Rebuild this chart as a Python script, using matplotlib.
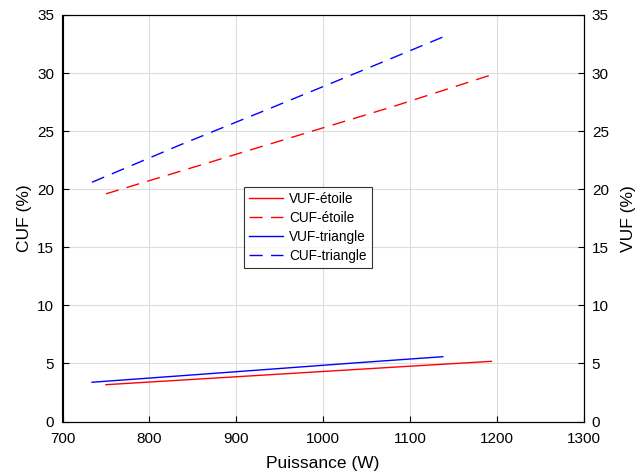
import matplotlib
matplotlib.use("Agg")
import matplotlib.pyplot as plt

# Puissance (W) and unbalance factors (%)
p_etoile = [750, 860, 970, 1080, 1194]
vuf_etoile = [3.17, 3.67, 4.17, 4.67, 5.18]
cuf_etoile = [19.6, 22.1, 24.6, 27.1, 29.85]

p_triangle = [734, 835, 937, 1038, 1138]
vuf_triangle = [3.38, 3.93, 4.49, 5.05, 5.58]
cuf_triangle = [20.6, 23.8, 26.9, 30.0, 33.1]

x_ticks = [700, 800, 900, 1000, 1100, 1200, 1300]
y_ticks = [0, 5, 10, 15, 20, 25, 30, 35]

plt.rcParams["font.family"] = ["Liberation Sans", "DejaVu Sans"]

L, R, T, B = 62.5, 583.5, 15, 421.5
fig = plt.figure(figsize=(6.35, 4.75), dpi=100, facecolor="white")
ax = fig.add_axes([L / 635, 1 - B / 475, (R - L) / 635, (B - T) / 475])
ax2 = ax.twinx()

dash = (0, (9.5, 6))
# left axis: CUF, right axis: VUF (same 0-35 range)
l1, = ax2.plot(p_etoile, vuf_etoile, color="red", lw=1, label="VUF-étoile")
l2, = ax.plot(p_etoile, cuf_etoile, color="red", lw=1, ls=dash, label="CUF-étoile")
l3, = ax2.plot(p_triangle, vuf_triangle, color="blue", lw=1, label="VUF-triangle")
l4, = ax.plot(p_triangle, cuf_triangle, color="blue", lw=1, ls=dash, label="CUF-triangle")

for a in (ax, ax2):
    a.set_xlim(700, 1300)
    a.set_ylim(0, 35)
    a.set_yticks(y_ticks)
    a.tick_params(direction="in", length=4, width=0.8, labelsize=11, pad=6, colors="black")
ax.set_xticks(x_ticks)
ax.tick_params(axis="x", top=False, pad=7.5)
ax.grid(True, color="#dcdcdc", lw=0.8)
ax.set_axisbelow(True)

ax.set_xlabel("Puissance (W)", fontsize=12.5, labelpad=7)
ax.set_ylabel("CUF (%)", fontsize=12.5, labelpad=4)
ax2.set_ylabel("VUF (%)", fontsize=12.5, labelpad=9)

for a in (ax, ax2):
    for s in a.spines.values():
        s.set_linewidth(0.8)
        s.set_color("black")

leg = ax2.legend(handles=[l1, l2, l3, l4], loc="upper left",
                 bbox_to_anchor=((244 - L) / (R - L), (B - 187) / (B - T)),
                 fontsize=9.8, frameon=True, fancybox=False, edgecolor="black",
                 handlelength=2.5, handletextpad=0.45, borderpad=0.38,
                 labelspacing=0.36, borderaxespad=0)
leg.get_frame().set_linewidth(0.8)

fig.savefig("out.png", dpi=100, facecolor="white")
